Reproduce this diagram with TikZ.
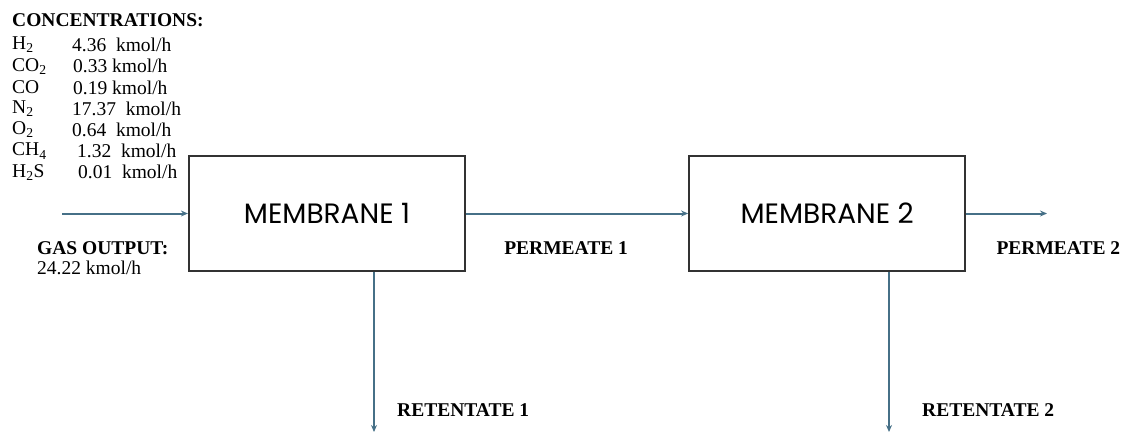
\documentclass[tikz,border=0pt]{standalone}
\usepackage{fontspec}
\setmainfont{Liberation Serif}
\newfontfamily\membfont{Poppins}
\usepackage{xcolor}
\usepackage{tikz}
\usetikzlibrary{
	arrows.meta,
	positioning,
	calc
}
\definecolor{flowblue}{RGB}{70,112,135}
\definecolor{boxgray}{RGB}{50,50,50}

\begin{document}
\begin{tikzpicture}[x=1pt, y=-1pt,
					membox/.style={
					rectangle, draw=boxgray, line width=2.2pt,
					minimum width=276pt, minimum height=115pt,
					align=center, fill=white,
					font=\membfont\fontsize{28}{30}\selectfont
				},
				flow/.style={-{Stealth[length=7pt,width=6pt]}, flowblue, line width=2pt},
				boldlabel/.style={
					anchor=west, inner sep=0pt,
					font=\bfseries\fontsize{19.5}{21}\selectfont
				},
				plainlabel/.style={
					anchor=west, inner sep=0pt,
					font=\fontsize{19.5}{21}\selectfont
				},
				]
				\useasboundingbox (0,0) rectangle (1128,434);
				
				%feed data
				\node[boldlabel] (conc) at (12,20) {CONCENTRATIONS:};
				\foreach \i/\spc/\val/\dx in {0/{H\textsubscript{2}}/{4.36\ \ kmol/h}/0,
					1/{CO\textsubscript{2}}/{0.33 kmol/h}/1,
					2/{CO}/{0.19 kmol/h}/1,
					3/{N\textsubscript{2}}/{17.37\ \ kmol/h}/0,
					4/{O\textsubscript{2}}/{0.64\ \ kmol/h}/0,
					5/{CH\textsubscript{4}}/{1.32\ \ kmol/h}/5,
					6/{H\textsubscript{2}S}/{0.01\ \ kmol/h}/6}{
					\node[plainlabel] (spc\i) at (12,45+21.2*\i) {\spc};
					\node[plainlabel] (val\i) at (72+\dx,45+21.2*\i) {\val};
				}
				
				%first membrane
				\node[membox] (mem1) at (327,213.5) {MEMBRANE 1};
				\coordinate (feed) at (62,213.5);
				\draw[flow] (feed) -- (mem1);
				
				\node[boldlabel] (gas) at (37,248) {GAS OUTPUT:};
				\node[plainlabel] (gasval) at (37,268) {24.22 kmol/h};
				
				%second membrane
				\node[membox, right=222pt of mem1] (mem2) {MEMBRANE 2};
				\draw[flow] (mem1) -- (mem2);
				\node (perm1) at (mem1.east |- gas) [boldlabel, xshift=38pt] {PERMEATE 1};
				
				\coordinate (out2) at (1047,213.5);
				\draw[flow] (mem2) -- (out2);
				\node (perm2) at (mem2.east |- gas) [boldlabel, xshift=30pt] {PERMEATE 2};
				
				%retentates
				\coordinate (ret1) at (374,432);
				\draw[flow] (ret1 |- mem1.south) -- (ret1);
				\node (reten1) at (ret1) [boldlabel, xshift=23pt, yshift=22pt] {RETENTATE 1};
				
				\coordinate (ret2) at (889,432);
				\draw[flow] (ret2 |- mem2.south) -- (ret2);
				\node (reten2) at (ret2) [boldlabel, xshift=33pt, yshift=22pt] {RETENTATE 2};
			\end{tikzpicture}
\end{document}
